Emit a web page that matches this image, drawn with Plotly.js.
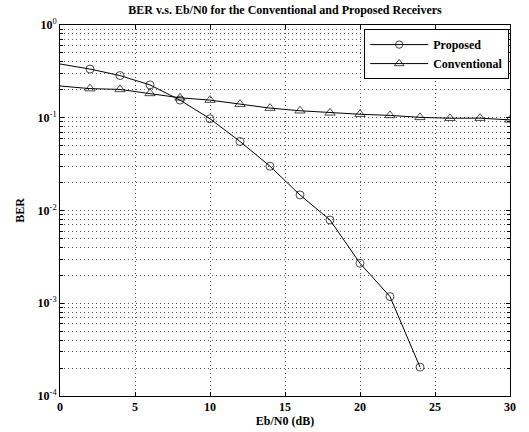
<!DOCTYPE html>
<html>
<head>
<meta charset="utf-8">
<script src="https://cdn.plot.ly/plotly-3.0.1.min.js"></script>
<style>html,body{margin:0;padding:0;background:#fff;}#chart{width:529px;height:432px;}</style>
</head>
<body>
<div id="chart"></div>
<script>
const ebn0 = [0, 2, 4, 6, 8, 10, 12, 14, 16, 18, 20, 22, 24];
const berProposed = [0.38, 0.335, 0.285, 0.226, 0.155, 0.0975, 0.0555, 0.0300, 0.0147, 0.0079, 0.0027, 0.00118, 0.000205];
const ebn0Conv = [0, 2, 4, 6, 8, 10, 12, 14, 16, 18, 20, 22, 24, 26, 28, 30];
const berConventional = [0.22, 0.206, 0.202, 0.183, 0.164, 0.155, 0.140, 0.127, 0.119, 0.113, 0.109, 0.106, 0.101, 0.0988, 0.0990, 0.0948];
const xTicks = [0, 5, 10, 15, 20, 25, 30];
const decades = [0, -1, -2, -3, -4];

const yTickVals = [], yTickText = [], yMinorVals = [];
decades.forEach(function (d) {
  yTickVals.push(Math.pow(10, d));
  yTickText.push('<b>10</b><sup>' + d + '</sup>');
  if (d > -4) {
    for (let m = 2; m <= 9; m++) yMinorVals.push(m * Math.pow(10, d - 1));
  }
});

const font = {family: 'Liberation Serif, Times New Roman, serif', color: '#000'};
const gridDash = '1px,3px';
const fs = 12;

const traces = [
  {
    x: ebn0, y: berProposed, name: '<b>Proposed</b>', mode: 'lines+markers',
    line: {color: '#000', width: 1},
    marker: {symbol: 'circle-open', size: ebn0.map(function (v, i) { return i === 0 ? 0 : 8; }), color: '#000', line: {width: 1, color: '#000'}},
    cliponaxis: true
  },
  {
    x: ebn0Conv, y: berConventional, name: '<b>Conventional</b>', mode: 'lines+markers',
    line: {color: '#000', width: 1},
    marker: {symbol: 'triangle-up-open', size: ebn0Conv.map(function (v, i) { return i === 0 ? 0 : 9; }), color: '#000', line: {width: 1, color: '#000'}},
    cliponaxis: true
  }
];

const layout = {
  width: 529, height: 432,
  margin: {l: 60, r: 19, t: 25, b: 36},
  paper_bgcolor: '#fff', plot_bgcolor: '#fff',
  font: Object.assign({size: fs}, font),
  title: {text: '<b>BER v.s. Eb/N0 for the Conventional and Proposed Receivers</b>', font: Object.assign({size: fs}, font), x: 0.5, xref: 'paper', xanchor: 'center', y: 0.977, yanchor: 'middle'},
  xaxis: {
    range: [0, 30], tickvals: xTicks, ticktext: xTicks.map(function (v) { return '<b>' + v + '</b>'; }),
    showline: true, linecolor: '#000', linewidth: 1, mirror: 'ticks',
    ticks: 'inside', ticklen: 4, tickcolor: '#000',
    showgrid: true, gridcolor: '#555', griddash: gridDash, gridwidth: 1,
    zeroline: false, tickfont: Object.assign({size: fs}, font),
    title: {text: '<b>Eb/N0 (dB)</b>', font: Object.assign({size: fs}, font), standoff: 3}
  },
  yaxis: {
    type: 'log', range: [-4, 0], tickvals: yTickVals, ticktext: yTickText,
    showline: true, linecolor: '#000', linewidth: 1, mirror: 'ticks',
    ticks: 'inside', ticklen: 4, tickcolor: '#000',
    showgrid: true, gridcolor: '#555', griddash: gridDash, gridwidth: 1,
    minor: {tickmode: 'array', tickvals: yMinorVals, ticks: 'inside', ticklen: 3, tickcolor: '#000', showgrid: true, gridcolor: '#555', griddash: gridDash, gridwidth: 1},
    zeroline: false, tickfont: Object.assign({size: fs}, font),
    title: {text: '<b>BER</b>', font: Object.assign({size: fs}, font), standoff: 10}
  },
  showlegend: true,
  legend: {
    x: 0.676, y: 0.989, xanchor: 'left', yanchor: 'top',
    bgcolor: '#fff', bordercolor: '#000', borderwidth: 1,
    font: Object.assign({size: fs}, font), itemwidth: 58, tracegroupgap: 0
  }
};

Plotly.newPlot('chart', traces, layout, {displayModeBar: false, staticPlot: true});
</script>
</body>
</html>
